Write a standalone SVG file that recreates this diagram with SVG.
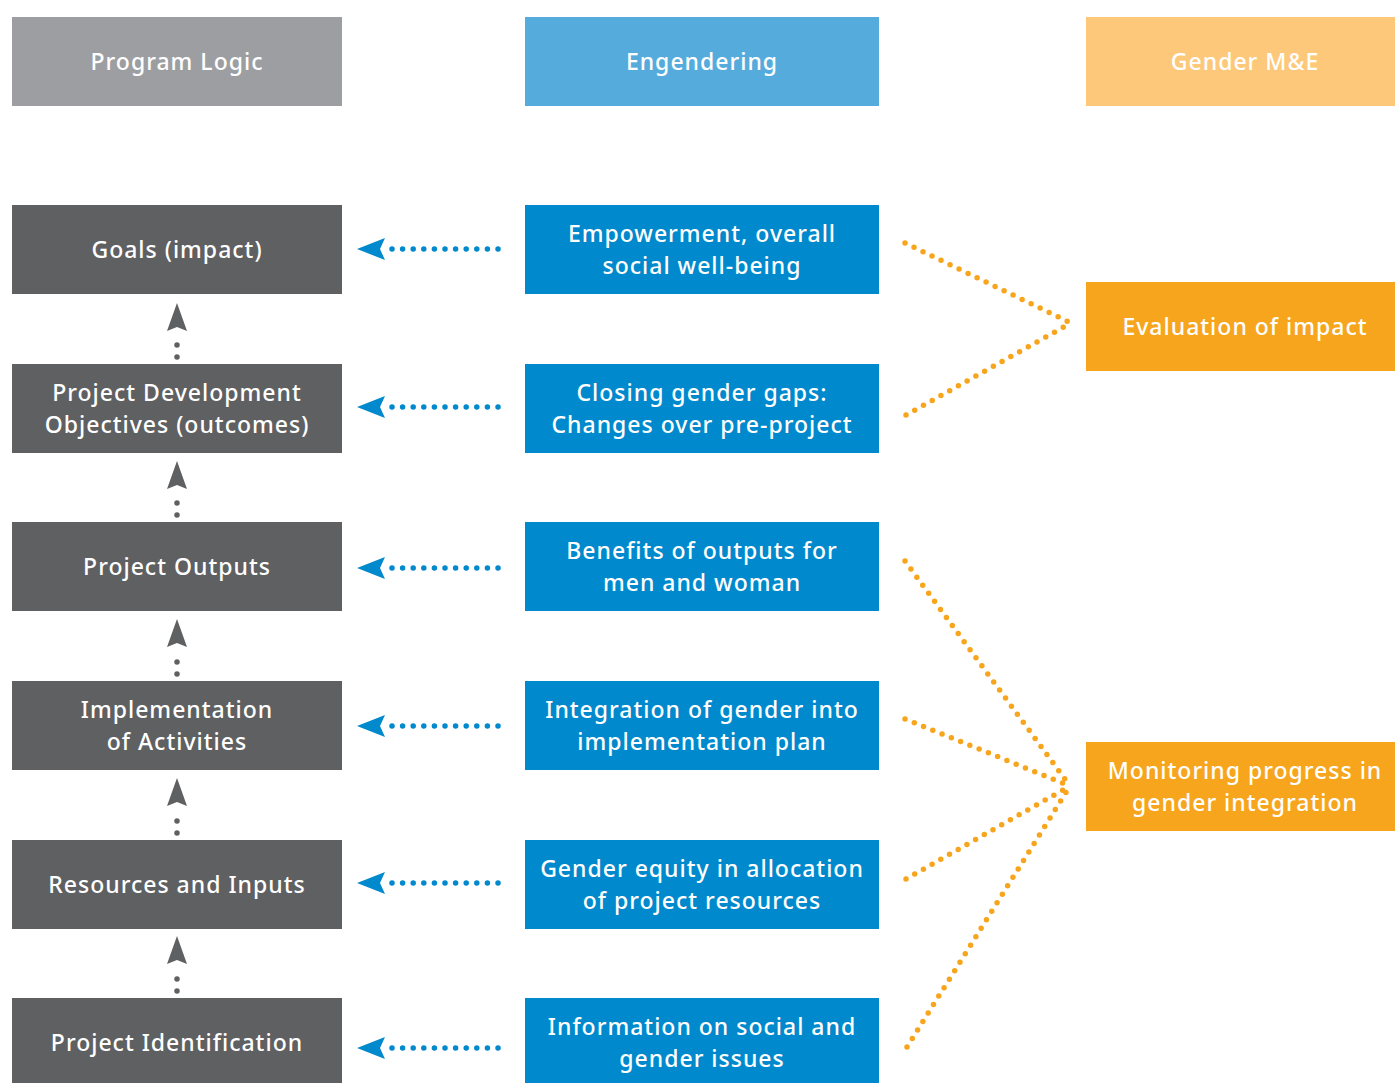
<svg xmlns="http://www.w3.org/2000/svg" width="1395" height="1083" viewBox="0 0 1395 1083">
<style>
text{font-family:"Noto Sans","Liberation Sans",sans-serif;font-size:23px;font-weight:500;fill:#fff;text-anchor:middle;letter-spacing:1px}
.pl{fill:#5f6062}.en{fill:#0089cc}.me{fill:#f7a51d}
.bl{stroke:#0089cc;stroke-width:5.5;stroke-linecap:round;stroke-dasharray:0 10.6;fill:none}
.gr{stroke:#5f6062;stroke-width:5.5;stroke-linecap:round;stroke-dasharray:0 12;fill:none}
.or{stroke:#f7a51d;stroke-width:5.5;stroke-linecap:round;stroke-dasharray:0 10;fill:none}
</style>
<rect width="1395" height="1083" fill="#fff"/>
<g id="h-program"><rect x="12" y="17" width="330" height="89" fill="#9d9ea2"/><text x="177" y="70">Program Logic</text></g>
<g id="h-engendering"><rect x="525" y="17" width="354" height="89" fill="#55acdc"/><text x="702" y="70">Engendering</text></g>
<g id="h-me"><rect x="1086" y="17" width="309" height="89" fill="#fec87a"/><text x="1245" y="70">Gender M&amp;E</text></g>

<g id="p1"><rect class="pl" x="12" y="205" width="330" height="89"/><text x="177" y="258">Goals (impact)</text></g>
<g id="p2"><rect class="pl" x="12" y="364" width="330" height="89"/><text x="177" y="401">Project Development</text><text x="177" y="433">Objectives (outcomes)</text></g>
<g id="p3"><rect class="pl" x="12" y="522" width="330" height="89"/><text x="177" y="575">Project Outputs</text></g>
<g id="p4"><rect class="pl" x="12" y="681" width="330" height="89"/><text x="177" y="718">Implementation</text><text x="177" y="750">of Activities</text></g>
<g id="p5"><rect class="pl" x="12" y="840" width="330" height="89"/><text x="177" y="893">Resources and Inputs</text></g>
<g id="p6"><rect class="pl" x="12" y="998" width="330" height="85"/><text x="177" y="1051">Project Identification</text></g>

<g id="e1"><rect class="en" x="525" y="205" width="354" height="89"/><text x="702" y="242">Empowerment, overall</text><text x="702" y="274">social well-being</text></g>
<g id="e2"><rect class="en" x="525" y="364" width="354" height="89"/><text x="702" y="401">Closing gender gaps:</text><text x="702" y="433">Changes over pre-project</text></g>
<g id="e3"><rect class="en" x="525" y="522" width="354" height="89"/><text x="702" y="559">Benefits of outputs for</text><text x="702" y="591">men and woman</text></g>
<g id="e4"><rect class="en" x="525" y="681" width="354" height="89"/><text x="702" y="718">Integration of gender into</text><text x="702" y="750">implementation plan</text></g>
<g id="e5"><rect class="en" x="525" y="840" width="354" height="89"/><text x="702" y="877">Gender equity in allocation</text><text x="702" y="909">of project resources</text></g>
<g id="e6"><rect class="en" x="525" y="998" width="354" height="85"/><text x="702" y="1035">Information on social and</text><text x="702" y="1067">gender issues</text></g>

<g id="m1"><rect class="me" x="1086" y="282" width="309" height="89"/><text x="1245" y="335">Evaluation of impact</text></g>
<g id="m2"><rect class="me" x="1086" y="742" width="309" height="89"/><text x="1245" y="779">Monitoring progress in</text><text x="1245" y="811">gender integration</text></g>

<g id="connectors">
<g fill="#0089cc">
<path class="bl" d="M498 249H382"/><path d="M357 249L385 238L380 249L385 260Z"/>
<path class="bl" d="M498 407H382"/><path d="M357 407L385 396L380 407L385 418Z"/>
<path class="bl" d="M498 568H382"/><path d="M357 568L385 557L380 568L385 579Z"/>
<path class="bl" d="M498 726H382"/><path d="M357 726L385 715L380 726L385 737Z"/>
<path class="bl" d="M498 883H382"/><path d="M357 883L385 872L380 883L385 894Z"/>
<path class="bl" d="M498 1048H382"/><path d="M357 1048L385 1037L380 1048L385 1059Z"/>
</g>
<g fill="#5f6062">
<path class="gr" d="M177 357V333"/><path d="M177 303L167 331L177 327L187 331Z"/>
<path class="gr" d="M177 515V491"/><path d="M177 461L167 489L177 485L187 489Z"/>
<path class="gr" d="M177 674V650"/><path d="M177 619L167 647L177 643L187 647Z"/>
<path class="gr" d="M177 833V809"/><path d="M177 778L167 806L177 802L187 806Z"/>
<path class="gr" d="M177 991V967"/><path d="M177 936L167 964L177 960L187 964Z"/>
</g>
<path class="or" d="M905 243L1071 323"/>
<path class="or" d="M906 415L1071 323"/>
<path class="or" d="M905 561L1070 786"/>
<path class="or" d="M905 719L1070 786"/>
<path class="or" d="M906 879L1070 786"/>
<path class="or" d="M907 1047L1070 786"/>
</g>
</svg>
